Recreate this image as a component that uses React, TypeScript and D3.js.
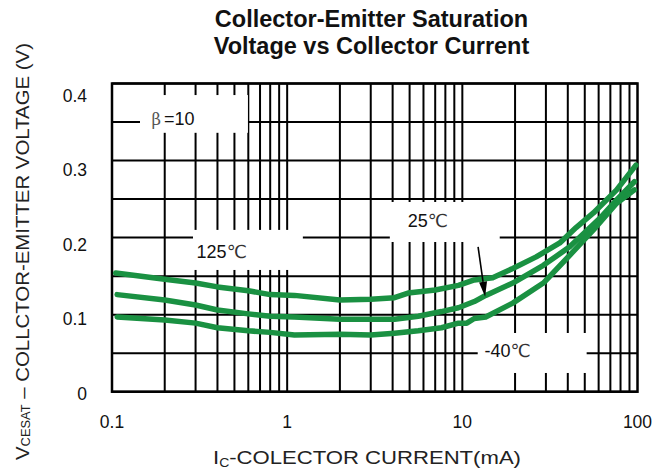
import React from "react";
import * as d3 from "d3";

// chart values
const titleLines = ["Collector-Emitter Saturation", "Voltage vs Collector Current"];
const xTicks = [0.1, 1, 10, 100];
const xTickLabels = ["0.1", "1", "10", "100"];
const yTicks = [0, 0.1, 0.2, 0.3, 0.4];
const yTickLabels = ["0", "0.1", "0.2", "0.3", "0.4"];
const yGrid = [0, 0.05, 0.1, 0.15, 0.2, 0.25, 0.3, 0.35, 0.4];

// collector current (mA) / VCE(sat) (V)
const ic125 = [0.105, 0.2, 0.3, 0.4, 0.6, 0.8, 1.1, 2, 3, 4.1, 4.9, 7, 9.5, 11.7, 14.9, 19.4, 26.4, 36, 44.6, 56, 76, 98];
const v125 = [0.154, 0.146, 0.141, 0.136, 0.131, 0.126, 0.125, 0.119, 0.12, 0.122, 0.128, 0.132, 0.138, 0.145, 0.148, 0.16, 0.175, 0.193, 0.213, 0.232, 0.262, 0.294];
const ic25 = [0.107, 0.2, 0.3, 0.4, 0.6, 0.8, 1.1, 2, 3, 4.1, 5.6, 7.6, 9.5, 11.7, 13.6, 19.4, 29, 41, 61, 76, 96];
const v25 = [0.126, 0.119, 0.1125, 0.106, 0.101, 0.098, 0.097, 0.094, 0.094, 0.094, 0.098, 0.104, 0.109, 0.117, 0.125, 0.141, 0.164, 0.188, 0.225, 0.249, 0.2725];
const icM40 = [0.107, 0.2, 0.3, 0.4, 0.6, 0.8, 1.1, 2, 3, 4.1, 5.6, 7.6, 9.5, 10.6, 11.7, 13.6, 19.4, 29, 41, 56, 76, 96];
const vM40 = [0.097, 0.093, 0.089, 0.083, 0.079, 0.077, 0.0735, 0.0745, 0.0735, 0.076, 0.079, 0.083, 0.089, 0.089, 0.095, 0.097, 0.115, 0.141, 0.177, 0.21, 0.2445, 0.262];

// label boxes in data units: [x0, x1, yTop, yBottom]
const labelBoxes = [
  [0.1445, 0.597, 0.385, 0.336],
  [0.29, 1.229, 0.21, 0.158],
  [3.855, 16.35, 0.2462, 0.1943],
  [12.24, 51.25, 0.0762, 0.0243],
];
const tempLabels = [
  { text: "125", x: 0.304, y: 0.173 },
  { text: "25", x: 4.88, y: 0.2134 },
  { text: "-40", x: 13.4, y: 0.0446 },
];
const arrowFrom = [12.3, 0.188];
const arrowTo = [13.5, 0.1233];

const FONT = "'Liberation Sans', Arial, sans-serif";
const GREEN = "#1a9142";

export default function App() {
  const width = 665;
  const height = 475;
  const x = d3.scaleLog().domain([0.1, 100]).range([112, 637.5]);
  const y = d3.scaleLinear().domain([0, 0.4]).range([391.7, 83.5]);
  // the tick numbers sit a little off the grid lines in the original
  const yLab = d3.scaleLinear().domain([0, 0.4]).range([393, 95]);

  const line = d3
    .line<[number, number]>()
    .x((d) => x(d[0]))
    .y((d) => y(d[1]));

  const series = [
    d3.zip(ic125, v125),
    d3.zip(ic25, v25),
    d3.zip(icM40, vM40),
  ] as [number, number][][];

  const xGrid = x.ticks().filter((t) => t > 0.1 && t < 100);

  const ax0 = x(arrowFrom[0]);
  const ay0 = y(arrowFrom[1]);
  const ax1 = x(arrowTo[0]);
  const ay1 = y(arrowTo[1]);
  const ang = Math.atan2(ay1 - ay0, ax1 - ax0);
  const headLen = 15;
  const headW = 4;
  const bx = ax1 - headLen * Math.cos(ang);
  const by = ay1 - headLen * Math.sin(ang);
  const head = [
    [ax1, ay1],
    [bx + headW * Math.sin(ang), by - headW * Math.cos(ang)],
    [bx - headW * Math.sin(ang), by + headW * Math.cos(ang)],
  ]
    .map((p) => p.join(","))
    .join(" ");

  return (
    <svg
      width={width}
      height={height}
      style={{ position: "absolute", left: 0, top: 0, background: "#fff" }}
      fontFamily={FONT}
    >
      {/* title */}
      {titleLines.map((t, i) => (
        <text
          key={t}
          x={371.5}
          y={26.5 + i * 27}
          textAnchor="middle"
          fontWeight="bold"
          fontSize={23.5}
          fill="#111"
        >
          {t}
        </text>
      ))}

      {/* grid */}
      <g stroke="#000" strokeWidth={2}>
        {yGrid.map((v) => (
          <line key={"h" + v} x1={x(0.1)} x2={x(100)} y1={y(v)} y2={y(v)} />
        ))}
        {xGrid.map((t) => (
          <line key={"v" + t} x1={x(t)} x2={x(t)} y1={y(0)} y2={y(0.4)} />
        ))}
      </g>
      <rect
        x={x(0.1)}
        y={y(0.4)}
        width={x(100) - x(0.1)}
        height={y(0) - y(0.4)}
        fill="none"
        stroke="#000"
        strokeWidth={2.5}
      />

      {/* white label boxes hiding the grid */}
      {labelBoxes.map((b, i) => (
        <rect
          key={i}
          x={x(b[0])}
          y={y(b[2])}
          width={x(b[1]) - x(b[0])}
          height={y(b[3]) - y(b[2])}
          fill="#fff"
        />
      ))}

      {/* curves */}
      {series.map((s, i) => (
        <path
          key={i}
          d={line(s) || ""}
          fill="none"
          stroke={GREEN}
          strokeWidth={5.5}
          strokeLinejoin="round"
          strokeLinecap="round"
        />
      ))}

      {/* annotations */}
      <text x={x(0.168)} y={y(0.346)} fontSize={18} fill="#111">
        <tspan fontFamily="'DejaVu Serif', 'Liberation Serif', serif" fontSize={16.5} fill="#555">
          β
        </tspan>
        <tspan dx={3}>=10</tspan>
      </text>
      {tempLabels.map((l) => (
        <text key={l.text} x={x(l.x)} y={y(l.y)} fontSize={18} fill="#111">
          {l.text}
          <tspan fontFamily="'DejaVu Sans', 'Noto Sans CJK SC', sans-serif" fontSize={18} fill="#333">
            ℃
          </tspan>
        </text>
      ))}
      <line x1={ax0} y1={ay0} x2={bx} y2={by} stroke="#000" strokeWidth={1.6} />
      <polygon points={head} fill="#000" />

      {/* tick labels */}
      {xTicks.map((t, i) => (
        <text key={"xt" + t} x={x(t)} y={428} textAnchor="middle" fontSize={17.5} fill="#111">
          {xTickLabels[i]}
        </text>
      ))}
      {yTicks.map((t, i) => (
        <text key={"yt" + t} x={87} y={yLab(t) + 6.5} textAnchor="end" fontSize={17.5} fill="#111">
          {yTickLabels[i]}
        </text>
      ))}

      {/* axis titles */}
      <text x={213} y={464} fontSize={19} fill="#222" textLength={308} lengthAdjust="spacingAndGlyphs">
        I<tspan fontSize={12} dy={3}>C</tspan>
        <tspan dy={-3}>-COLECTOR CURRENT(mA)</tspan>
      </text>
      <text
        transform="translate(29,460) rotate(-90)"
        fontSize={19}
        fill="#222"
        textLength={417}
        lengthAdjust="spacingAndGlyphs"
      >
        V<tspan fontSize={12} dy={1}>CESAT</tspan>
        <tspan dy={-1}> – COLLCTOR-EMITTER VOLTAGE (V)</tspan>
      </text>
    </svg>
  );
}
